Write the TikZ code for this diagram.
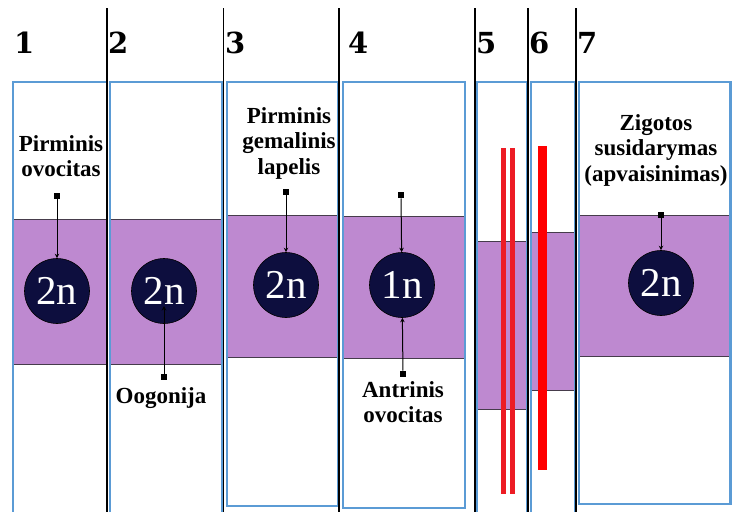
\documentclass[tikz,border=0pt]{standalone}
\usepackage{fontspec}
\setmainfont{Liberation Serif}
\newfontfamily\numfamily{DejaVu Serif}
\usetikzlibrary{arrows.meta}
\definecolor{boxblue}{RGB}{91,155,213}
\definecolor{bandpur}{RGB}{190,137,208}
\definecolor{bandrim}{RGB}{70,60,75}
\definecolor{cellnavy}{RGB}{13,14,62}
\definecolor{barred}{RGB}{237,28,36}

\begin{document}
\begin{tikzpicture}[x=1pt, y=-1pt,
  box/.style={draw=boxblue, line width=2.8pt},
  band/.style={fill=bandpur},
  rim/.style={draw=bandrim, line width=1pt},
  sep/.style={draw=black, line width=1.5pt},
  bar/.style={draw=barred, line width=5pt},
  num/.style={anchor=base west, inner sep=0pt, font=\numfamily\bfseries\fontsize{29}{29}\selectfont},
  lbl/.style={align=center, inner sep=0pt, font=\fontsize{23}{25.5}\selectfont\bfseries},
  cell/.style={circle, fill=cellnavy, draw=black, line width=0.6pt, text=white,
               minimum size=65pt, inner sep=0pt, font=\fontsize{41}{41}\selectfont},
  sq/.style={fill=black, inner sep=0pt, minimum size=6.5pt},
  pin/.style={-{Stealth[length=4.5pt,width=4.5pt]}, draw=black, line width=1pt}]
\useasboundingbox (0,0) rectangle (732,512);
% purple bands (one per stage)
\fill[band] (13,219) rectangle (107,364);  \draw[rim] (13,219)--(107,219) (13,364)--(107,364);
\fill[band] (110,219) rectangle (222,364); \draw[rim] (110,219)--(222,219) (110,364)--(222,364);
\fill[band] (227,215) rectangle (338,357); \draw[rim] (227,215)--(338,215) (227,357)--(338,357);
\fill[band] (343,216) rectangle (465,358); \draw[rim] (343,216)--(465,216) (343,358)--(465,358);
\fill[band] (477,241) rectangle (527,409); \draw[rim] (477,241)--(527,241) (477,409)--(527,409);
\fill[band] (531,232) rectangle (575,390); \draw[rim] (531,232)--(575,232) (531,390)--(575,390);
\fill[band] (579,215) rectangle (730,356); \draw[rim] (579,215)--(730,215) (579,356)--(730,356);
% blue stage frames
\draw[box] (13,82) rectangle (107,520);  \draw[box] (110,82) rectangle (222,520);
\draw[box] (227,82) rectangle (338,506); \draw[box] (343,82) rectangle (465,508);
\draw[box] (477,82) rectangle (527,520); \draw[box] (531,82) rectangle (575,520);
\draw[box] (579,82) rectangle (730.3,504);
% black column rules
\draw[sep] (107,8)--(107,515); \draw[sep] (223.5,8)--(223.5,515); \draw[sep] (339,8)--(339,515);
\draw[sep] (475,8)--(475,515); \draw[sep] (528,8)--(528,515); \draw[sep] (576,8)--(576,515);
% stage numbers
\node[num] (n1) at (14,53) {1};  \node[num] (n2) at (108,53) {2}; \node[num] (n3) at (225,53) {3};
\node[num] (n4) at (348,53) {4}; \node[num] (n5) at (476,53) {5}; \node[num] (n6) at (529,53) {6};
\node[num] (n7) at (577,53) {7};
% chromosomes (red bars)
\draw[bar] (503,148)--(503,494); \draw[bar] (512,148)--(512,494);
\draw[bar, draw=red, line width=9pt] (542.5,146)--(542.5,470);
% cells
\node[cell] (c1) at (57,291)  {2n};
\node[cell] (c2) at (164,291) {2n};
\node[cell] (c3) at (286,285) {2n};
\node[cell] (c4) at (402,285) {1n};
\node[cell] (c7) at (661,283) {2n};
% labels
\node[lbl] (l1) at (61,156)  {Pirminis\\ovocitas};
\node[lbl] (l2) at (161,398) {Oogonija};
\node[lbl] (l3) at (289,143) {Pirminis\\gemalinis\\lapelis};
\node[lbl] (l4) at (403,402) {Antrinis\\ovocitas};
\node[lbl] (l7) at (656,150) {Zigotos\\susidarymas\\(apvaisinimas)};
% pointer squares + arrows
\node[sq] (s1) at (57,196) {};  \node[sq] (s2) at (164,377) {};
\node[sq] (s3) at (286,192) {}; \node[sq] (s4a) at (401,195) {};
\node[sq] (s4b) at (403,374) {}; \node[sq] (s7) at (661,215) {};
\draw[pin] (s1)--(c1); \draw[pin] (s2)--([yshift=-15pt]c2.center);
\draw[pin] (s3)--(c3); \draw[pin] (s4a)--(c4); \draw[pin] (s4b)--(c4);
\draw[pin] (s7)--(c7);
\end{tikzpicture}
\end{document}
